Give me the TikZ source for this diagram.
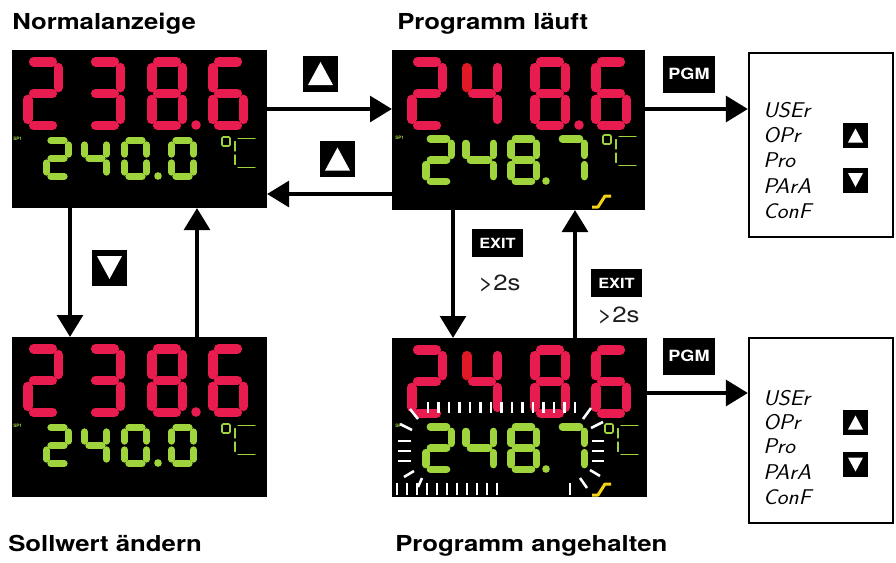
\documentclass[tikz,border=0pt]{standalone}
\usepackage{fontspec}
\usepackage{graphicx}
\usetikzlibrary{arrows.meta,calc}
\newfontfamily\hel{TeX Gyre Heros}
\definecolor{segred}{RGB}{232,28,78}
\definecolor{segredb}{RGB}{226,24,36}
\definecolor{seggreen}{RGB}{160,212,60}
\definecolor{segyellow}{RGB}{245,212,20}
\definecolor{txtgray}{RGB}{30,30,30}
\newcommand\hs[1]{\scalebox{1.17}[1]{#1}}
\newcommand\ms[1]{\scalebox{1.07}[1]{#1}}
\newcommand\segA{\draw ({\sgG},0) -- ({\sgW-\sgG},0);}
\newcommand\segB{\draw ({\sgW},{\sgG}) -- ({\sgW},{\sgH/2-\sgG});}
\newcommand\segC{\draw ({\sgW},{\sgH/2+\sgG}) -- ({\sgW},{\sgH-\sgG});}
\newcommand\segD{\draw ({\sgG},{\sgH}) -- ({\sgW-\sgG},{\sgH});}
\newcommand\segE{\draw (0,{\sgH/2+\sgG}) -- (0,{\sgH-\sgG});}
\newcommand\segF{\draw (0,{\sgG}) -- (0,{\sgH/2-\sgG});}
\newcommand\segG{\draw ({\sgG},{\sgH/2}) -- ({\sgW-\sgG},{\sgH/2});}
\newcommand\dZero{\segA\segB\segC\segD\segE\segF}
\newcommand\dTwo{\segA\segB\segG\segE\segD}
\newcommand\dThree{\segA\segB\segG\segC\segD}
\newcommand\dFour{\segF\segG\segB\segC}
\newcommand\dFourNoF{\segG\segB\segC}
\newcommand\dSix{\segA\segF\segG\segE\segD\segC}
\newcommand\dSeven{\segA\segB\segC}
\newcommand\dEight{\segA\segB\segC\segD\segE\segF\segG}
\newcommand\sevdig[6]{%
  \pgfmathsetmacro\sgW{#3-#1-#5}%
  \pgfmathsetmacro\sgH{#4-#2-#5}%
  \pgfmathsetmacro\sgG{#5*0.62}%
  \pgfmathsetmacro\sgLW{#5*0.75}%
  \begin{scope}[shift={({#1+#5/2},{#2+#5/2})}, line width=\sgLW pt, line cap=round]
    #6
  \end{scope}}
\newcommand\degC[2]{%
  \draw[line width=1.2pt, rounded corners=1pt] (#1,#2) rectangle ({#1+8},{#2+9});
  \begin{scope}[line width=0.85pt, double=black, double distance=1.2pt, line cap=round]
    \draw ({#1+16},{#2+1.5}) -- ({#1+33},{#2+1.5});
    \draw ({#1+13},{#2+4.5}) -- ({#1+13},{#2+14});
    \draw ({#1+13},{#2+18}) -- ({#1+13},{#2+27.5});
    \draw ({#1+16},{#2+30.5}) -- ({#1+33},{#2+30.5});
  \end{scope}}
\newcommand\uptri[3]{\fill[white] ([shift={(-#2,#3)}]#1.center) -- ([shift={(#2,#3)}]#1.center) -- ([shift={(0,-#3)}]#1.center) -- cycle;}
\newcommand\dntri[3]{\fill[white] ([shift={(-#2,-#3)}]#1.center) -- ([shift={(#2,-#3)}]#1.center) -- ([shift={(0,#3)}]#1.center) -- cycle;}
\begin{document}
\begin{tikzpicture}[x=0.75pt,y=-0.75pt,
  disp/.style={fill=black, inner sep=0, outer sep=0},
  menu/.style={draw=black, line width=1.6pt, fill=white, inner sep=0},
  arr/.style={line width=3.6pt, -{Triangle[length=16.5pt,width=19pt]}},
  keybox/.style={fill=black, inner sep=0, minimum width=26.25pt, minimum height=27pt},
  smallkey/.style={fill=black, inner sep=0, minimum size=18.75pt},
  labkey/.style={fill=black, inner sep=0, text=white, font=\hel\bfseries\fontsize{10.5pt}{11pt}\selectfont},
  title/.style={anchor=base west, inner sep=0, font=\hel\bfseries\fontsize{16.5pt}{18pt}\selectfont},
  durtxt/.style={anchor=base west, inner sep=0, text=txtgray, font=\hel\fontsize{16.5pt}{18pt}\selectfont},
  menutxt/.style={anchor=base west, inner sep=0, font=\sffamily\itshape\fontsize{16pt}{17pt}\selectfont},
  splabel/.style={anchor=west, inner sep=0, text=seggreen, font=\hel\bfseries\fontsize{3.5pt}{4pt}\selectfont},
  tickw/.style={white, line width=1.9pt},
  ramp/.style={segyellow, line width=2.25pt, line join=round}]
\useasboundingbox (0,0) rectangle (896,562);
\fill[white] (0,0) rectangle (896,562);

% titles
\node[title] (t1) at (12,29) {\hs{Normalanzeige}};
\node[title] (t2) at (397,29) {\hs{Programm läuft}};
\node[title] (t3) at (8,551) {\hs{Sollwert ändern}};
\node[title] (t4) at (395,551) {\hs{Programm angehalten}};

% displays and menus
\node[disp, minimum width=191.25pt, minimum height=118.5pt] (d1) at (139.5,129) {};
\node[disp, minimum width=189.75pt, minimum height=120pt] (d2) at (518.5,130) {};
\node[disp, minimum width=191.25pt, minimum height=120pt] (d3) at (139.5,417) {};
\node[disp, minimum width=191.25pt, minimum height=119.25pt] (d4) at (519.5,417.5) {};
\node[menu, minimum width=108pt, minimum height=138pt] (m1) at (821,145) {};
\node[menu, minimum width=108pt, minimum height=138.75pt] (m2) at (821,430.5) {};

% ---- readout d1
\begin{scope}[segred]
  \sevdig{23}{57}{63}{130}{9.5}{\dTwo}
  \sevdig{85}{57}{125}{130}{9.5}{\dThree}
  \sevdig{147}{57}{187}{130}{9.5}{\dEight}
  \sevdig{208}{57}{248}{130}{9.5}{\dSix}
  \fill (196,125) circle[radius=4.8];
\end{scope}
\begin{scope}[seggreen]
  \sevdig{43}{137}{72}{180}{7}{\dTwo}
  \sevdig{81}{137}{110}{180}{7}{\dFour}
  \sevdig{121}{137}{150}{180}{7}{\dZero}
  \sevdig{168}{137}{197}{180}{7}{\dZero}
  \fill (158,176) circle[radius=3.8];
  \degC{222}{137}
\end{scope}
\node[splabel] (sp1) at (13,139) {SP1};

% ---- readout d3
\begin{scope}[segred]
  \sevdig{23}{344}{63}{417}{9.5}{\dTwo}
  \sevdig{85}{344}{125}{417}{9.5}{\dThree}
  \sevdig{147}{344}{187}{417}{9.5}{\dEight}
  \sevdig{208}{344}{248}{417}{9.5}{\dSix}
  \fill (196,412) circle[radius=4.8];
\end{scope}
\begin{scope}[seggreen]
  \sevdig{43}{424}{72}{467}{7}{\dTwo}
  \sevdig{81}{424}{110}{467}{7}{\dFour}
  \sevdig{121}{424}{150}{467}{7}{\dZero}
  \sevdig{168}{424}{197}{467}{7}{\dZero}
  \fill (158,463) circle[radius=3.8];
  \degC{222}{424}
\end{scope}
\node[splabel] (sp3) at (13,426) {SP1};

% ---- readout d2
\begin{scope}[segred]
  \sevdig{407}{57}{447}{130}{9.5}{\dTwo}
  \sevdig{462}{57}{502}{130}{9.5}{\dFourNoF}
  \sevdig{530}{57}{570}{130}{9.5}{\dEight}
  \sevdig{591}{57}{631}{130}{9.5}{\dSix}
  \fill (579,125) circle[radius=4.8];
\end{scope}
\begin{scope}[segredb]
  \sevdig{462}{57}{502}{130}{9.5}{\segF}
\end{scope}
\begin{scope}[seggreen]
  \sevdig{422}{135}{455}{185}{7.5}{\dTwo}
  \sevdig{462}{135}{497}{185}{7.5}{\dFour}
  \sevdig{507}{135}{540}{185}{7.5}{\dEight}
  \sevdig{554}{135}{588}{185}{7.5}{\dSeven}
  \fill (546,181) circle[radius=3.8];
  \degC{603}{135}
\end{scope}
\node[splabel] (sp2) at (395,138) {SP1};
\draw[ramp] (592,207) -- (598,207) -- (605,196) -- (611,196);

% ---- readout d4
\begin{scope}[segred]
  \sevdig{407}{345}{447}{418}{9.5}{\dTwo}
  \sevdig{462}{345}{502}{418}{9.5}{\dFourNoF}
  \sevdig{530}{345}{570}{418}{9.5}{\dEight}
  \sevdig{591}{345}{631}{418}{9.5}{\dSix}
\end{scope}
\begin{scope}[segredb]
  \sevdig{462}{345}{502}{418}{9.5}{\segF}
\end{scope}
\begin{scope}[seggreen]
  \sevdig{422}{423}{455}{473}{7.5}{\dTwo}
  \sevdig{462}{423}{497}{473}{7.5}{\dFour}
  \sevdig{507}{423}{540}{473}{7.5}{\dEight}
  \sevdig{554}{423}{588}{473}{7.5}{\dSeven}
  \fill (546,469) circle[radius=3.8];
  \degC{605}{424}
\end{scope}
\node[splabel] (sp4) at (395,426) {SP1};
\draw[ramp] (592,495) -- (598,495) -- (605,484) -- (611,484);
\begin{scope}[tickw]
  \foreach \x in {428,438.5,...,576} \draw (\x,402) -- (\x,413);
  \foreach \x in {397,407,...,497} \draw (\x,483) -- (\x,495);
  \draw (570,483) -- (570,495);
  \foreach \y in {441,451,461} {\draw (398,\y) -- (411,\y); \draw (592,\y) -- (604,\y);}
  \draw (410,409) -- (418,419);
  \draw (400,424) -- (412,430);
  \draw (591,408) -- (583,419);
  \draw (603,422) -- (591,428);
  \draw (404,477) -- (414,471);
  \draw (418,487) -- (422,478);
  \draw (590,470) -- (600,476);
  \draw (580,478) -- (587,488);
\end{scope}

% ---- menus
\node[menutxt] (u1) at (763,117) {\ms{USEr}};
\node[menutxt] (o1) at (763,142) {\ms{OPr}};
\node[menutxt] (r1) at (763,167) {\ms{Pro}};
\node[menutxt] (a1) at (763,193) {\ms{PArA}};
\node[menutxt] (c1) at (763,218) {\ms{ConF}};
\node[smallkey] (mu1) at (855.5,135.5) {};
\uptri{mu1}{7.5}{7}
\node[smallkey] (md1) at (855.5,180) {};
\dntri{md1}{7.5}{7}

\node[menutxt] (u2) at (763,405) {\ms{USEr}};
\node[menutxt] (o2) at (763,429) {\ms{OPr}};
\node[menutxt] (r2) at (763,453) {\ms{Pro}};
\node[menutxt] (a2) at (763,479) {\ms{PArA}};
\node[menutxt] (c2) at (763,504) {\ms{ConF}};
\node[smallkey] (mu2) at (855.5,422.5) {};
\uptri{mu2}{7.5}{7}
\node[smallkey] (md2) at (855.5,464.5) {};
\dntri{md2}{7.5}{7}

% ---- keys
\node[keybox] (k1) at (320.5,73.5) {};
\uptri{k1}{12.5}{11.5}
\node[keybox] (k2) at (337.5,159) {};
\uptri{k2}{12.5}{11.5}
\node[keybox] (k3) at (109.5,267.5) {};
\dntri{k3}{12.5}{11.5}
\node[labkey, minimum width=38.25pt, minimum height=21pt] (e1) at (497.5,243) {\hs{EXIT}};
\node[durtxt] (s1) at (478,290) {\hs{>2s}};
\node[labkey, minimum width=38.25pt, minimum height=21pt] (e2) at (616.5,283) {\hs{EXIT}};
\node[durtxt] (s2) at (597,322) {\hs{>2s}};
\node[labkey, minimum width=39pt, minimum height=27.75pt, font=\hel\bfseries\fontsize{11.6pt}{12pt}\selectfont] (p1) at (689,74) {\hs{PGM}};
\node[labkey, minimum width=39pt, minimum height=27.75pt, font=\hel\bfseries\fontsize{11.6pt}{12pt}\selectfont] (p2) at (689,356) {\hs{PGM}};

% ---- arrows
\draw[arr] (d1.east |- 0,109) -- (d2.west |- 0,109);
\draw[arr] (d2.west |- 0,194) -- (d1.east |- 0,194);
\draw[arr] (d1.south -| 70,0) -- (d3.north -| 70,0);
\draw[arr] (d3.north -| 197,0) -- (d1.south -| 197,0);
\draw[arr] (d2.south -| 453,0) -- (d4.north -| 453,0);
\draw[arr] (d4.north -| 575,0) -- (d2.south -| 575,0);
\draw[arr] (d2.east |- 0,109) -- (m1.west |- 0,109);
\draw[arr] (d4.east |- 0,393) -- (m2.west |- 0,393);
\end{tikzpicture}
\end{document}
